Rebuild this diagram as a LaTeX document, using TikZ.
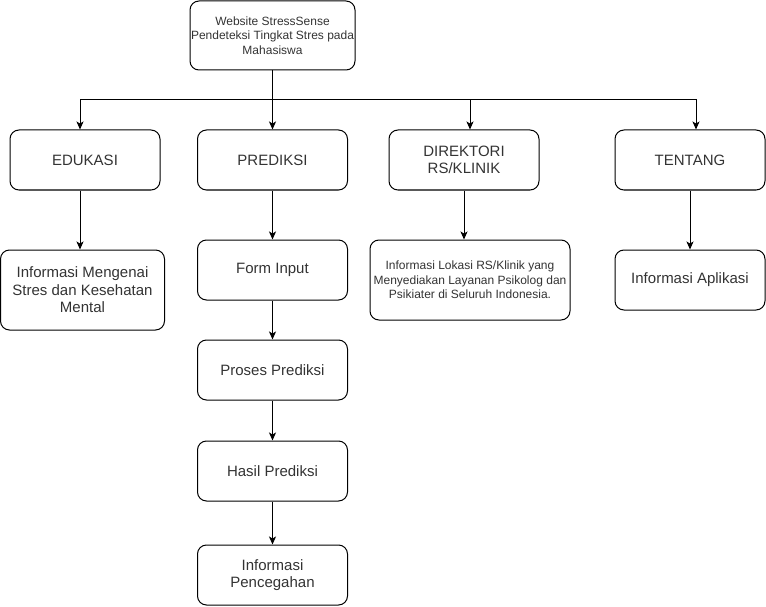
\documentclass[tikz,border=0pt]{standalone}
\usepackage{fontspec}
\setmainfont{Liberation Sans}
\usetikzlibrary{positioning}
\usetikzlibrary{arrows.meta}
\tikzset{
    % Filled arrow heads, close to the sketch
    >={Stealth[length=8pt,width=7pt,inset=2pt]},
%
    % Rounded box used for every menu entry
    menu box/.style={
        draw, line width=1pt, rounded corners=9pt, align=center,
        minimum width=150pt, minimum height=60pt, text=black!80,
        font=\fontsize{15}{17.5}\selectfont},
%
    % Smaller lettering for the wordy boxes
    small text/.style={font=\fontsize{12}{14.5}\selectfont},
%
    % Plain connector with an arrow at the end
    link/.style={line width=1pt, ->}}

\begin{document}
\begin{tikzpicture}[x=1pt, y=-1pt]

\useasboundingbox (0,0) rectangle (766,607);

% Site root

\node [menu box, small text, inner sep=1pt,
    minimum width=165pt, minimum height=69pt] (web) at (272.5,35.5)
    {Website StressSense\\Pendeteksi Tingkat Stres pada\\Mahasiswa};

% Main menu

\node [menu box] (edukasi) at (85,160) {EDUKASI};
\node [menu box] (prediksi) at (272.5,160) {PREDIKSI};
\node [menu box] (direktori) at (464,160) {DIREKTORI\\RS/KLINIK};
\node [menu box] (tentang) at (690,160) {TENTANG};

% Pages under each menu

\node [menu box, minimum width=164pt, minimum height=80pt] (infoedu)
    at (82.5,290) {Informasi Mengenai\\Stres dan Kesehatan\\Mental};
\node [menu box] (form) at (272.5,270) {Form Input};
\node [menu box, below=39pt of form] (proses) {Proses Prediksi};
\node [menu box, below=40pt of proses] (hasil) {Hasil Prediksi};
\node [menu box, below=43pt of hasil] (cegah) {Informasi\\Pencegahan};
\node [menu box, small text, minimum width=200pt, minimum height=80pt]
    (lokasi) at (470,280)
    {Informasi Lokasi RS/Klinik yang\\Menyediakan Layanan Psikolog dan\\Psikiater di Seluruh Indonesia.};
\node [menu box] (aplikasi) at (690,280) {Informasi Aplikasi};

% Connectors

\coordinate (bus) at (272.5,100);
\draw [link] (web) -- (prediksi);
\draw [link] (bus) -| ([xshift=-5pt]edukasi.north);
\draw [link] (bus) -| ([xshift=6pt]direktori.north);
\draw [link] (bus) -| ([xshift=6pt]tentang.north);

\draw [link] ([xshift=-5pt]edukasi.south) -- ([xshift=-2.5pt]infoedu.north);
\draw [link] (prediksi) -- (form);
\draw [link] (form) -- (proses);
\draw [link] (proses) -- (hasil);
\draw [link] (hasil) -- (cegah);
\draw [link] (direktori) -- (direktori |- lokasi.north);
\draw [link] (tentang) -- (aplikasi);

\end{tikzpicture}
\end{document}
